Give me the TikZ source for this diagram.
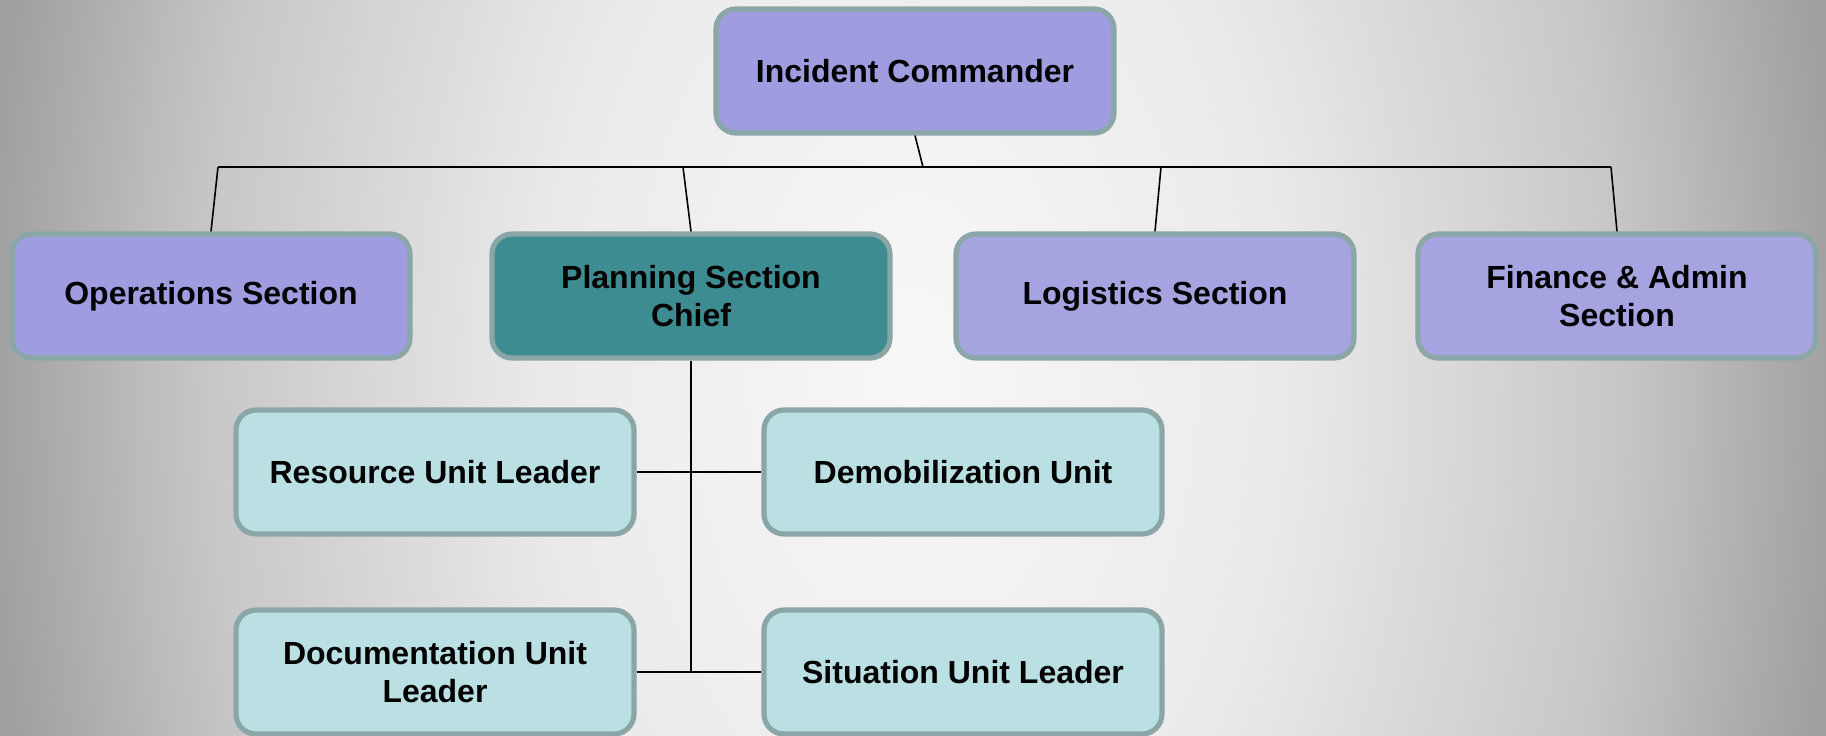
\documentclass[tikz,border=0pt]{standalone}
\usepackage{fontspec}
\setmainfont{Liberation Sans}
\definecolor{purpA}{RGB}{159,157,223}
\definecolor{purpB}{RGB}{165,164,225}
\definecolor{teal1}{RGB}{61,140,146}
\definecolor{unitc}{RGB}{186,224,227}
\definecolor{bord}{RGB}{138,166,166}
\pgfdeclareradialshading{bgshade}{\pgfpoint{0bp}{0bp}}{%
  color(0bp)=(black!3);
  color(7bp)=(black!8);
  color(13.6bp)=(black!22);
  color(17.7bp)=(black!37);
  color(19.5bp)=(black!41);
  color(25bp)=(black!50);
  color(50bp)=(black!50)}
\tikzset{
  box/.style={draw=bord, line width=2.6pt, rounded corners=10pt,
    minimum width=199pt, minimum height=62pt, align=center,
    font=\fontsize{16}{18.6}\selectfont\bfseries, text=black, inner sep=2pt},
  topbox/.style={box, fill=purpA},
  secbox/.style={box, fill=purpB},
  planbox/.style={box, fill=teal1},
  unitbox/.style={box, fill=unitc},
  conn/.style={draw=black, line width=0.8pt}
}
\begin{document}
\begin{tikzpicture}[x=0.5pt, y=-0.5pt]
\useasboundingbox (0,0) rectangle (1826,735);
\clip (0,0) rectangle (1826,735);
\shade[shading=bgshade] (913,370) ellipse [x radius=1300, y radius=2120];

\coordinate (b0) at (218,167);
\coordinate (b1) at (683,167);
\coordinate (b2) at (923,167);
\coordinate (b3) at (1161,167);
\coordinate (b4) at (1611,167);
\coordinate (pend) at (691,672);

\node[topbox] (ic) at (915,71) {Incident Commander};
\node[topbox] (ops) at (211,296) {Operations Section};
\node[planbox] (plan) at (691,296) {Planning Section\\Chief};
\node[secbox] (log) at (1155,296) {Logistics Section};
\node[secbox] (fin) at (1617,296) {Finance \& Admin\\Section};
\node[unitbox] (res) at (435,472) {Resource Unit Leader};
\node[unitbox] (demob) at (963,472) {Demobilization Unit};
\node[unitbox] (doc) at (435,672) {Documentation Unit\\Leader};
\node[unitbox] (sit) at (963,672) {Situation Unit Leader};

\draw[conn] (b0) -- (b4);
\draw[conn] (ic.south) -- (b2);
\draw[conn] (b0) -- (ops.north);
\draw[conn] (b1) -- (plan.north);
\draw[conn] (b3) -- (log.north);
\draw[conn] (b4) -- (fin.north);
\draw[conn] (plan.south) -- (pend);
\draw[conn] (res.east) -- (demob.west);
\draw[conn] (doc.east) -- (sit.west);
\end{tikzpicture}
\end{document}
